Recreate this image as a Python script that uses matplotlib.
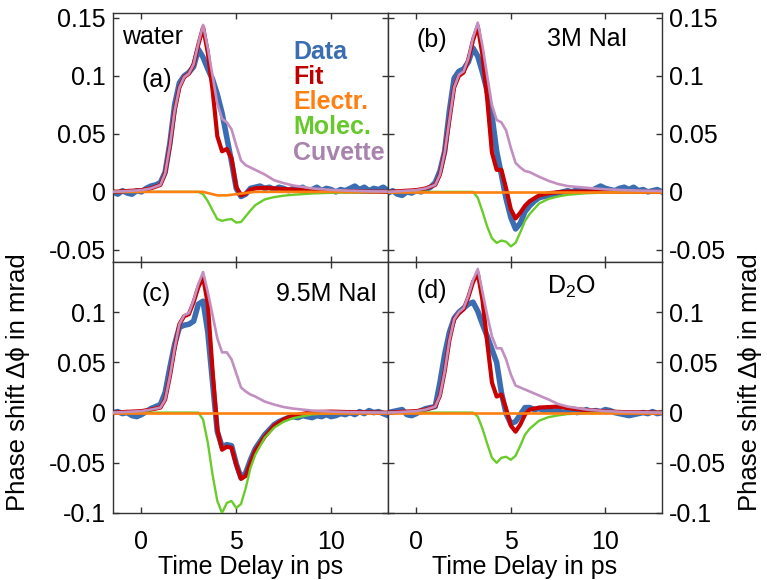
import numpy as np
import matplotlib
matplotlib.use("Agg")
import matplotlib.pyplot as plt

plt.rcParams["font.family"] = ["Liberation Sans", "DejaVu Sans"]
plt.rcParams["mathtext.fontset"] = "custom"
plt.rcParams["mathtext.rm"] = "Liberation Sans"

# time grid for the model curves (ps)
t_mod = [-1.5, -1.0, -0.5, 0.0, 0.5, 1.0, 1.25, 1.5, 1.75, 2.0, 2.25, 2.5, 2.75,
         3.0, 3.25, 3.5, 3.75, 4.0, 4.25, 4.5, 4.75, 5.0, 5.25, 5.5, 5.75, 6.0,
         6.5, 7.0, 7.5, 8.0, 9.0, 10.0, 11.0, 12.0, 13.0]
# time grid for the measured data (ps), 0.25 ps steps
t_dat = np.linspace(-1.5, 13.0, 59)

# ---------------- (a) water ----------------
data_a = [0.000, -0.002, 0.001, -0.001, -0.002, 0.001, 0.000, 0.003, 0.005, 0.006,
          0.008, 0.017, 0.042, 0.075, 0.094, 0.100, 0.103, 0.108, 0.123, 0.116,
          0.106, 0.097, 0.084, 0.068, 0.047, 0.026, 0.003, -0.004, -0.002, 0.003,
          0.004, 0.005, 0.003, 0.004, 0.002, 0.004, 0.003, 0.001, 0.003, 0.002,
          0.004, 0.001, 0.002, 0.004, 0.001, 0.003, 0.002, 0.000, 0.002, 0.001,
          0.003, 0.005, 0.002, 0.004, 0.001, 0.003, 0.002, 0.004, 0.001]
fit_a = [0.0, 0.0005, 0.001, 0.0015, 0.003, 0.006, 0.016, 0.040, 0.070, 0.090,
         0.099, 0.102, 0.110, 0.127, 0.142, 0.120, 0.088, 0.048, 0.035, 0.037,
         0.029, 0.004, -0.003, -0.0015, 0.002, 0.003, 0.0035, 0.003, 0.0025,
         0.002, 0.0012, 0.0007, 0.0004, 0.0002, 0.0001]
elec_a = [0, 0, 0, 0, 0, 0, 0, 0, 0, 0, 0, 0, 0, 0, 0, -0.001, -0.002, -0.003,
          -0.003, -0.003, -0.0025, -0.002, -0.0015, -0.001, -0.0005, 0, 0, 0, 0,
          0, 0, 0, 0, 0, 0]
mol_a = [0, 0, 0, 0, 0, 0, 0, 0, 0, 0, 0, 0, 0, 0, -0.002, -0.008, -0.016,
         -0.0235, -0.025, -0.024, -0.0235, -0.0265, -0.026, -0.021, -0.016,
         -0.0115, -0.0065, -0.0045, -0.0033, -0.0025, -0.0014, -0.0008, -0.0004,
         -0.0002, 0]
cuv_a = [0.0, 0.0005, 0.001, 0.0015, 0.003, 0.006, 0.016, 0.040, 0.070, 0.090,
         0.099, 0.102, 0.110, 0.128, 0.144, 0.124, 0.100, 0.076, 0.063, 0.060,
         0.054, 0.040, 0.027, 0.023, 0.021, 0.019, 0.015, 0.010, 0.0075, 0.0055,
         0.003, 0.0017, 0.001, 0.0005, 0.0003]

# ---------------- (b) 3M NaI ----------------
data_b = [-0.001, 0.001, -0.002, -0.003, 0.000, -0.001, 0.001, 0.000, 0.002, 0.004,
          0.008, 0.018, 0.035, 0.070, 0.098, 0.104, 0.106, 0.112, 0.124, 0.117,
          0.103, 0.087, 0.066, 0.035, 0.015, -0.006, -0.022, -0.032, -0.027, -0.017,
          -0.012, -0.008, -0.005, -0.004, -0.003, -0.002, -0.001, 0.000, 0.001, 0.000,
          0.002, 0.001, 0.002, 0.001, 0.003, 0.005, 0.003, 0.002, 0.001, 0.003,
          0.004, 0.002, 0.004, 0.001, 0.002, 0.000, 0.001, 0.002, 0.000]
fit_b = [0.0, 0.0005, 0.001, 0.0015, 0.003, 0.006, 0.015, 0.034, 0.062, 0.090,
         0.100, 0.103, 0.114, 0.131, 0.143, 0.118, 0.080, 0.034, 0.019, 0.019,
         0.003, -0.015, -0.023, -0.018, -0.012, -0.008, -0.003, -0.0012, -0.0003,
         0.0002, 0.0003, 0.0002, 0.0001, 0.0, 0.0]
elec_b = [0.0] * 35
mol_b = [0, 0, 0, 0, 0, 0, 0, 0, 0, 0, 0, 0, 0, 0, -0.005, -0.017, -0.030,
         -0.040, -0.044, -0.042, -0.043, -0.047, -0.044, -0.035, -0.025, -0.019,
         -0.010, -0.006, -0.004, -0.0025, -0.0012, -0.0006, -0.0003, -0.0001, 0]
cuv_b = [0.0, 0.0005, 0.001, 0.0015, 0.003, 0.006, 0.015, 0.034, 0.062, 0.090,
         0.101, 0.104, 0.115, 0.133, 0.146, 0.126, 0.100, 0.075, 0.062, 0.060,
         0.053, 0.038, 0.025, 0.021, 0.018, 0.017, 0.013, 0.0095, 0.0068, 0.005,
         0.0035, 0.0022, 0.0015, 0.001, 0.0007]

# ---------------- (c) 9.5M NaI ----------------
data_c = [0.000, 0.001, -0.001, 0.000, -0.003, -0.004, -0.002, 0.001, 0.004, 0.006,
          0.008, 0.020, 0.045, 0.068, 0.085, 0.087, 0.088, 0.091, 0.108, 0.111,
          0.080, 0.030, -0.019, -0.034, -0.032, -0.033, -0.051, -0.065, -0.060, -0.047,
          -0.036, -0.029, -0.022, -0.017, -0.012, -0.009, -0.007, -0.005, -0.004, -0.005,
          -0.003, -0.004, -0.005, -0.003, -0.004, -0.002, -0.004, -0.003, -0.001, -0.002,
          0.000, -0.002, 0.001, -0.001, 0.002, 0.000, 0.001, -0.001, -0.003]
fit_c = [0.0, 0.0005, 0.001, 0.0015, 0.003, 0.005, 0.013, 0.036, 0.064, 0.088,
         0.096, 0.098, 0.110, 0.125, 0.135, 0.108, 0.042, -0.017, -0.037, -0.034,
         -0.035, -0.052, -0.066, -0.063, -0.050, -0.038, -0.024, -0.013, -0.0067,
         -0.003, 0.0005, 0.001, 0.0005, 0.0002, 0.0]
elec_c = [0.0] * 35
mol_c = [0, 0, 0, 0, 0, 0, 0, 0, 0, 0, 0, 0, 0, 0, -0.007, -0.030, -0.062,
         -0.088, -0.100, -0.090, -0.088, -0.095, -0.091, -0.075, -0.055, -0.042,
         -0.025, -0.015, -0.009, -0.0055, -0.0018, -0.0006, -0.0002, 0, 0]
cuv_c = [0.0, 0.0005, 0.001, 0.0015, 0.003, 0.005, 0.013, 0.036, 0.064, 0.088,
         0.097, 0.099, 0.112, 0.128, 0.140, 0.120, 0.097, 0.074, 0.060, 0.060,
         0.053, 0.039, 0.025, 0.021, 0.018, 0.016, 0.011, 0.008, 0.0055, 0.004,
         0.002, 0.001, 0.0005, 0.0002, 0.0]

# ---------------- (d) D2O ----------------
data_d = [0.000, 0.001, 0.002, 0.003, -0.002, -0.003, -0.001, 0.002, 0.004, 0.005,
          0.006, 0.030, 0.058, 0.080, 0.094, 0.100, 0.104, 0.108, 0.110, 0.101,
          0.088, 0.076, 0.063, 0.050, 0.020, -0.001, -0.011, -0.009, -0.002, 0.005,
          0.005, 0.003, 0.004, 0.002, 0.003, 0.001, 0.002, 0.000, 0.001, 0.002,
          0.000, 0.001, 0.003, 0.001, 0.002, 0.001, 0.003, 0.002, 0.000, -0.001,
          -0.002, -0.003, -0.002, -0.001, 0.000, -0.001, 0.001, -0.001, 0.000]
fit_d = [0.0, 0.0005, 0.001, 0.0015, 0.003, 0.006, 0.017, 0.041, 0.072, 0.093,
         0.099, 0.103, 0.115, 0.130, 0.139, 0.112, 0.070, 0.030, 0.016, 0.018,
         0.004, -0.013, -0.019, -0.012, -0.002, 0.003, 0.005, 0.0055, 0.006,
         0.0045, 0.0025, 0.0012, 0.0005, 0.0002, 0.0]
elec_d = [0.0] * 35
mol_d = [0, 0, 0, 0, 0, 0, 0, 0, 0, 0, 0, 0, 0, 0, -0.004, -0.016, -0.031,
         -0.045, -0.050, -0.045, -0.044, -0.047, -0.043, -0.033, -0.022, -0.016,
         -0.008, -0.0045, -0.0028, -0.0015, -0.0005, -0.0002, 0, 0, 0]
cuv_d = [0.0, 0.0005, 0.001, 0.0015, 0.003, 0.006, 0.017, 0.041, 0.072, 0.093,
         0.100, 0.104, 0.116, 0.132, 0.143, 0.120, 0.097, 0.076, 0.064, 0.064,
         0.053, 0.038, 0.027, 0.025, 0.023, 0.021, 0.017, 0.013, 0.0085, 0.006,
         0.003, 0.0015, 0.0007, 0.0003, 0.0]

series_names = ["Data", "Fit", "Electr.", "Molec.", "Cuvette"]

# colours / widths per series
COL = {"data": "#3b6db3", "fit": "#c80000", "elec": "#ff8010",
       "mol": "#6acc2a", "cuv": "#c28fc0"}
COL_TXT = {"Data": "#3b6db3", "Fit": "#c00000", "Electr.": "#ff8010",
           "Molec.": "#66c82a", "Cuvette": "#a883ae"}

fig = plt.figure(figsize=(7.67, 5.80), dpi=100)
W, H = 767.0, 580.0
ax_a = fig.add_axes([113 / W, 1 - 262 / H, 275 / W, 249 / H])
ax_b = fig.add_axes([388 / W, 1 - 262 / H, 274 / W, 249 / H])
ax_c = fig.add_axes([113 / W, 1 - 513 / H, 275 / W, 251 / H])
ax_d = fig.add_axes([388 / W, 1 - 513 / H, 274 / W, 251 / H])

panels = [
    (ax_a, data_a, fit_a, elec_a, mol_a, cuv_a),
    (ax_b, data_b, fit_b, elec_b, mol_b, cuv_b),
    (ax_c, data_c, fit_c, elec_c, mol_c, cuv_c),
    (ax_d, data_d, fit_d, elec_d, mol_d, cuv_d),
]

for ax, dat, fit, ele, mol, cuv in panels:
    ax.plot(t_dat, dat, color=COL["data"], lw=4.0, zorder=1, solid_joinstyle="round")
    ax.plot(t_mod, fit, color=COL["fit"], lw=3.0, zorder=2)
    ax.plot(t_mod, mol, color=COL["mol"], lw=1.7, zorder=3)
    ax.plot(t_mod, ele, color=COL["elec"], lw=1.9, zorder=4)
    ax.plot(t_mod, cuv, color=COL["cuv"], lw=1.9, zorder=5)
    ax.set_xlim(-1.5, 13)
    ax.set_xticks([0, 5, 10])
    ax.tick_params(direction="in", length=4, width=1, top=True, right=True,
                   labelsize=18, pad=5, color="#333333")
    ax.tick_params(axis="x", pad=12)
    for sp in ax.spines.values():
        sp.set_color("#333333")
        sp.set_linewidth(1.0)

top_ticks = [-0.05, 0, 0.05, 0.1, 0.15]
top_labels = ["-0.05", "0", "0.05", "0.1", "0.15"]
bot_ticks = [-0.1, -0.05, 0, 0.05, 0.1]
bot_labels = ["-0.1", "-0.05", "0", "0.05", "0.1"]

for ax in (ax_a, ax_b):
    ax.set_ylim(-0.0605, 0.1543)
    ax.set_yticks(top_ticks)
    ax.set_yticklabels(top_labels)
    ax.set_xticklabels([])
for ax in (ax_c, ax_d):
    ax.set_ylim(-0.1, 0.15)
    ax.set_yticks(bot_ticks)
    ax.set_yticklabels(bot_labels)
    ax.set_xticklabels(["0", "5", "10"])
    ax.set_xlabel("Time Delay in ps", fontsize=18, labelpad=1)
for ax in (ax_b, ax_d):
    ax.yaxis.tick_right()
    ax.tick_params(left=True, right=True, labelleft=False, labelright=True)

ylab = "Phase shift \u0394\u03d5 in mrad"
fig.text(18 / W, 1 - 382 / H, ylab, rotation=90, ha="center", va="center",
         fontsize=18.5)
fig.text(750 / W, 1 - 382 / H, ylab, rotation=90, ha="center", va="center",
         fontsize=18.5)

# panel annotations
ax_a.text(-1.0, 0.134, "water", fontsize=18, va="center")
ax_a.text(0.0, 0.0965, "(a)", fontsize=18, va="center")
ax_b.text(0.0, 0.1307, "(b)", fontsize=18, va="center")
ax_b.text(6.9, 0.132, "3M NaI", fontsize=18, va="center")
ax_c.text(0.0, 0.118, "(c)", fontsize=18, va="center")
ax_c.text(7.07, 0.118, "9.5M NaI", fontsize=18, va="center")
ax_d.text(0.0, 0.121, "(d)", fontsize=18, va="center")
ax_d.text(6.9, 0.125, "D$_2$O", fontsize=18, va="center")

# coloured legend words in panel (a)
for i, name in enumerate(series_names):
    ax_a.text(0.655, 0.845 - i * 0.1015, name, transform=ax_a.transAxes,
              fontsize=18, fontweight="bold", color=COL_TXT[name], va="center")

fig.savefig("out.png", dpi=100, facecolor="white")
